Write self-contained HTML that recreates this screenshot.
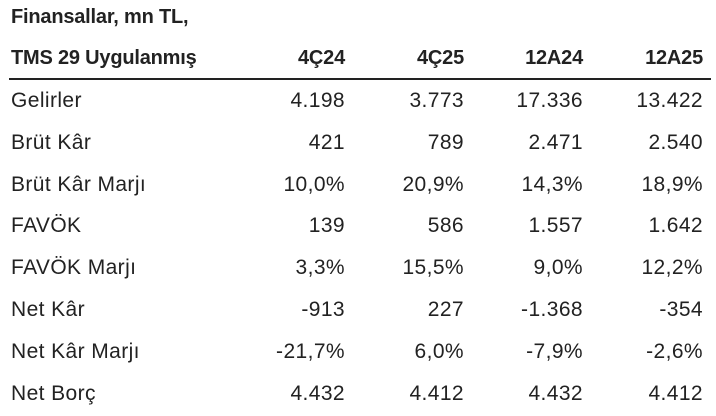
<!DOCTYPE html>
<html><head><style>
body{margin:0;width:716px;height:416px;background:#fff;font-family:"Liberation Sans",sans-serif;color:#222;position:relative;overflow:hidden}
.t{position:absolute;font-size:21px;line-height:24px;white-space:nowrap;letter-spacing:0.4px}
.b{font-weight:bold;font-size:20px;letter-spacing:-0.2px}
.r{text-align:right;width:130px}
.line{position:absolute;left:9px;width:702px;top:78px;height:2px;background:#222}
</style></head><body>
<div class="t b" style="left:11px;top:5px">Finansallar, mn TL,</div>
<div class="t b" style="left:11px;top:46px">TMS 29 Uygulanmış</div>
<div class="t b r" style="left:215px;top:46px">4Ç24</div>
<div class="t b r" style="left:334px;top:46px">4Ç25</div>
<div class="t b r" style="left:453px;top:46px">12A24</div>
<div class="t b r" style="left:573px;top:46px">12A25</div>
<div class="line"></div>
<div id="rows"></div>
<script>
var d=[["Gelirler","4.198","3.773","17.336","13.422"],["Brüt Kâr","421","789","2.471","2.540"],["Brüt Kâr Marjı","10,0%","20,9%","14,3%","18,9%"],["FAVÖK","139","586","1.557","1.642"],["FAVÖK Marjı","3,3%","15,5%","9,0%","12,2%"],["Net Kâr","-913","227","-1.368","-354"],["Net Kâr Marjı","-21,7%","6,0%","-7,9%","-2,6%"],["Net Borç","4.432","4.412","4.432","4.412"]];
var xs=[215,334,453,573],h="";
d.forEach(function(r,i){var y=89+i*41.8;
h+='<div class="t" style="left:11px;top:'+y+'px">'+r[0]+'</div>';
for(var j=1;j<5;j++)h+='<div class="t r" style="left:'+xs[j-1]+'px;top:'+y+'px">'+r[j]+'</div>';});
document.getElementById("rows").innerHTML=h;
</script>
</body></html>
